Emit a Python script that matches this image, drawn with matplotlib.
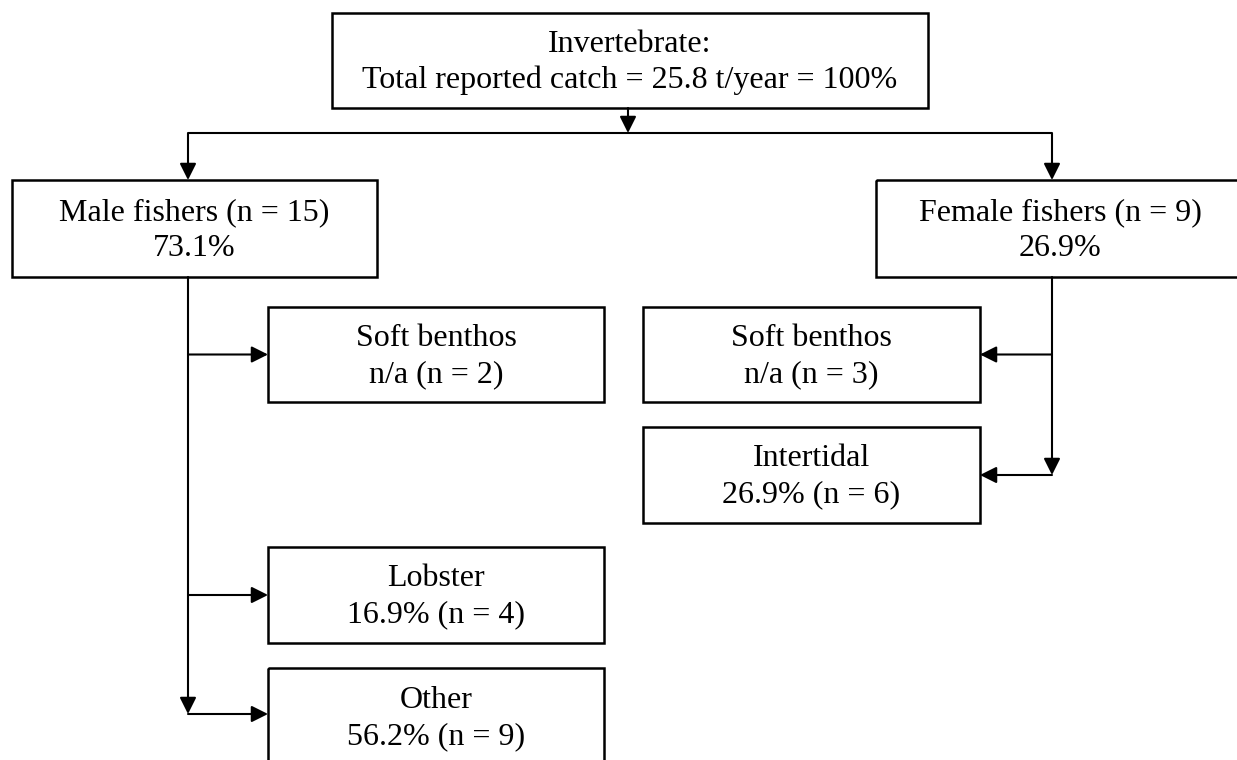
import matplotlib.pyplot as plt
from matplotlib.patches import Rectangle

# box labels (two lines each)
top_label = ["Invertebrate:", "Total reported catch = 25.8 t/year = 100%"]
gender_labels = [["Male fishers (n = 15)", "73.1%"],
                 ["Female fishers (n = 9)", "26.9%"]]
male_groups = ["Soft benthos", "Lobster", "Other"]
male_values = ["n/a (n = 2)", "16.9% (n = 4)", "56.2% (n = 9)"]
female_groups = ["Soft benthos", "Intertidal"]
female_values = ["n/a (n = 3)", "26.9% (n = 6)"]

# layout in pixels (x0, y0, x1, y1), y downwards
TOP_BOX = (332, 13, 928, 108)
GENDER_BOXES = [(12, 180, 377, 277), (876, 180, 1244, 277)]
MALE_BOXES = [(268, 307, 604, 402), (268, 547, 604, 643), (268, 668, 604, 766)]
FEMALE_BOXES = [(643, 307, 980, 402), (643, 427, 980, 523)]
SPLIT_Y = 133
MALE_X, FEMALE_X = 188, 1052

W, H = 1237, 760
fig = plt.figure(figsize=(W / 100, H / 100), dpi=100)
ax = fig.add_axes([0, 0, 1, 1])
ax.set_xlim(0, W)
ax.set_ylim(H, 0)
ax.axis('off')

FONT = dict(family='Liberation Serif', size=23)
LW_BOX = 1.8
LW_LINE = 1.5


def box(rect, lines):
    x0, y0, x1, y1 = rect
    ax.add_patch(Rectangle((x0, y0), x1 - x0, y1 - y0, fill=False,
                           edgecolor='black', linewidth=LW_BOX, clip_on=False))
    ax.text((x0 + x1) / 2, (y0 + y1) / 2 + 2, "\n".join(lines), ha='center',
            va='center', multialignment='center', linespacing=1.32, **FONT)


def line(xs, ys):
    ax.plot(xs, ys, color='black', linewidth=LW_LINE, solid_capstyle='butt')


def arrow(x0, y0, x1, y1):
    ax.annotate('', xy=(x1, y1), xytext=(x0, y0),
                arrowprops=dict(arrowstyle='-|>,head_length=1.0,head_width=0.5',
                                color='black', lw=LW_LINE, shrinkA=0, shrinkB=0))


box(TOP_BOX, top_label)
for rect, lab in zip(GENDER_BOXES, gender_labels):
    box(rect, lab)
for rect, g, v in zip(MALE_BOXES, male_groups, male_values):
    box(rect, [g, v])
for rect, g, v in zip(FEMALE_BOXES, female_groups, female_values):
    box(rect, [g, v])

# top split
top_cx = 628
arrow(top_cx, TOP_BOX[3], top_cx, SPLIT_Y)
line([MALE_X, FEMALE_X], [SPLIT_Y, SPLIT_Y])
arrow(MALE_X, SPLIT_Y, MALE_X, GENDER_BOXES[0][1])
arrow(FEMALE_X, SPLIT_Y, FEMALE_X, GENDER_BOXES[1][1])

# male branch
male_ys = [(r[1] + r[3]) / 2 for r in MALE_BOXES[:2]] + [714]
arrow(MALE_X, GENDER_BOXES[0][3], MALE_X, male_ys[-1])
for rect, y in zip(MALE_BOXES, male_ys):
    arrow(MALE_X, y, rect[0], y)

# female branch
female_ys = [(r[1] + r[3]) / 2 for r in FEMALE_BOXES]
arrow(FEMALE_X, GENDER_BOXES[1][3], FEMALE_X, female_ys[-1])
for rect, y in zip(FEMALE_BOXES, female_ys):
    arrow(FEMALE_X, y, rect[2], y)

fig.savefig('out.png', dpi=100)
